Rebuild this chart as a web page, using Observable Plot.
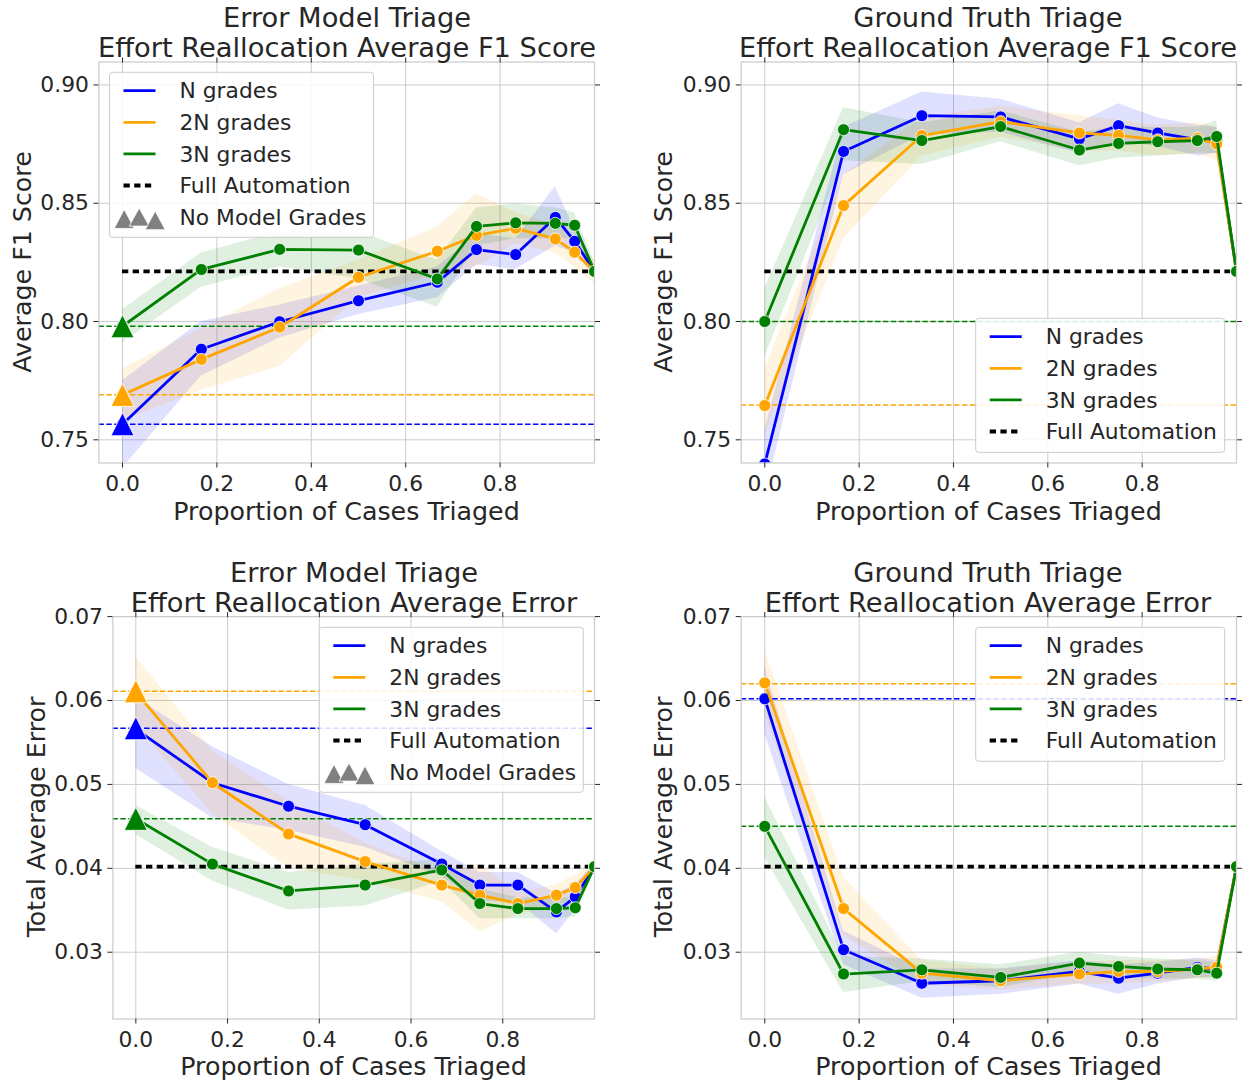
<!DOCTYPE html>
<html>
<head>
<meta charset="utf-8">
<script src="https://cdn.jsdelivr.net/npm/d3@7"></script>
<script src="https://cdn.jsdelivr.net/npm/@observablehq/plot@0.6"></script>
<style>
html,body{margin:0;padding:0;background:#ffffff;}
#root{position:relative;width:1252px;height:1082px;overflow:hidden;background:#fff;}
#root > svg{position:absolute;}
</style>
</head>
<body>
<div id="root"></div>
<script>
// ---------- shared categories / ticks ----------
const seriesNames = ["N grades", "2N grades", "3N grades"];
const seriesColors = ["blue", "orange", "green"];
const triageProp = [0, 0.167, 0.333, 0.5, 0.667, 0.75, 0.833, 0.917, 0.958, 1.0];
const xTickValues = [0, 0.2, 0.4, 0.6, 0.8];
const f1TickValues = [0.75, 0.80, 0.85, 0.90];
const errTickValues = [0.03, 0.04, 0.05, 0.06, 0.07];

// ---------- Error Model Triage : F1 ----------
const emF1_N     = [0.7566, 0.7883, 0.7999, 0.8088, 0.8166, 0.8304, 0.8283, 0.8440, 0.8339, 0.8212];
const emF1_N_lo  = [0.738, 0.777, 0.793, 0.803, 0.810, 0.824, 0.822, 0.832, 0.829, 0.819];
const emF1_N_hi  = [0.775, 0.800, 0.807, 0.815, 0.823, 0.837, 0.835, 0.857, 0.839, 0.823];
const emF1_2N    = [0.769, 0.784, 0.7976, 0.8187, 0.8297, 0.8364, 0.8394, 0.8349, 0.8293, 0.8212];
const emF1_2N_lo = [0.758, 0.771, 0.781, 0.810, 0.820, 0.823, 0.833, 0.829, 0.823, 0.816];
const emF1_2N_hi = [0.780, 0.797, 0.814, 0.826, 0.840, 0.854, 0.846, 0.841, 0.836, 0.826];
const emF1_3N    = [0.798, 0.822, 0.8305, 0.8302, 0.818, 0.8402, 0.8417, 0.8415, 0.8407, 0.8212];
const emF1_3N_lo = [0.791, 0.8145, 0.823, 0.818, 0.806, 0.832, 0.835, 0.835, 0.835, 0.818];
const emF1_3N_hi = [0.805, 0.829, 0.838, 0.838, 0.826, 0.848, 0.8497, 0.848, 0.846, 0.825];
const emF1_noModel = [0.7566, 0.769, 0.798];

// ---------- Ground Truth Triage : F1 ----------
const gtF1_N     = [0.7398, 0.8719, 0.887, 0.8865, 0.8772, 0.8828, 0.8797, 0.8769, 0.8766, 0.8212];
const gtF1_N_lo  = [0.726, 0.862, 0.879, 0.880, 0.871, 0.876, 0.874, 0.870, 0.871, 0.820];
const gtF1_N_hi  = [0.754, 0.882, 0.897, 0.894, 0.884, 0.892, 0.886, 0.883, 0.882, 0.823];
const gtF1_2N    = [0.7645, 0.849, 0.8786, 0.8845, 0.8797, 0.8787, 0.8768, 0.8775, 0.8751, 0.8212];
const gtF1_2N_lo = [0.752, 0.835, 0.870, 0.878, 0.872, 0.872, 0.870, 0.871, 0.868, 0.819];
const gtF1_2N_hi = [0.780, 0.862, 0.886, 0.891, 0.887, 0.885, 0.883, 0.884, 0.882, 0.824];
const gtF1_3N    = [0.800, 0.8811, 0.8765, 0.8824, 0.8725, 0.8753, 0.8760, 0.8765, 0.8782, 0.8212];
const gtF1_3N_lo = [0.785, 0.868, 0.8664, 0.876, 0.8658, 0.869, 0.870, 0.871, 0.871, 0.819];
const gtF1_3N_hi = [0.814, 0.8904, 0.884, 0.889, 0.880, 0.882, 0.882, 0.882, 0.885, 0.824];
const gtF1_noModel = [0.7398, 0.7647, 0.800];

const f1FullAutomation = 0.8212;

// ---------- Error Model Triage : Error ----------
const emErr_N     = [0.0566, 0.0502, 0.0474, 0.0452, 0.0405, 0.0380, 0.0380, 0.0348, 0.0366, 0.0402];
const emErr_N_lo  = [0.0519, 0.0460, 0.0445, 0.0425, 0.0390, 0.0360, 0.0360, 0.0322, 0.0350, 0.0398];
const emErr_N_hi  = [0.0604, 0.0545, 0.0500, 0.0475, 0.0420, 0.0395, 0.0395, 0.0370, 0.0380, 0.0406];
const emErr_2N    = [0.0610, 0.0502, 0.0441, 0.0408, 0.0380, 0.0368, 0.0358, 0.0368, 0.0377, 0.0402];
const emErr_2N_lo = [0.0570, 0.0465, 0.0400, 0.0385, 0.0360, 0.0324, 0.0345, 0.0355, 0.0365, 0.0398];
const emErr_2N_hi = [0.0652, 0.0540, 0.0480, 0.0430, 0.0395, 0.0405, 0.0370, 0.0380, 0.0392, 0.0406];
const emErr_3N    = [0.0459, 0.0405, 0.0373, 0.0380, 0.0398, 0.0358, 0.0352, 0.0352, 0.0353, 0.0402];
const emErr_3N_lo = [0.0440, 0.0385, 0.0350, 0.0355, 0.0385, 0.0340, 0.0340, 0.0340, 0.0342, 0.0398];
const emErr_3N_hi = [0.0475, 0.0425, 0.0395, 0.0405, 0.0410, 0.0375, 0.0365, 0.0365, 0.0365, 0.0406];
const emErr_noModel = [0.0567, 0.0611, 0.0459];

// ---------- Ground Truth Triage : Error ----------
const gtErr_N     = [0.0602, 0.0303, 0.0263, 0.0266, 0.0277, 0.0269, 0.0275, 0.0282, 0.0280, 0.0402];
const gtErr_N_lo  = [0.0560, 0.0285, 0.0245, 0.0250, 0.0262, 0.0250, 0.0262, 0.0270, 0.0270, 0.0398];
const gtErr_N_hi  = [0.0640, 0.0325, 0.0280, 0.0280, 0.0290, 0.0285, 0.0288, 0.0293, 0.0290, 0.0406];
const gtErr_2N    = [0.0621, 0.0352, 0.0275, 0.0266, 0.0274, 0.0277, 0.0277, 0.0280, 0.0282, 0.0402];
const gtErr_2N_lo = [0.0585, 0.0320, 0.0262, 0.0255, 0.0262, 0.0262, 0.0265, 0.0268, 0.0270, 0.0398];
const gtErr_2N_hi = [0.0660, 0.0389, 0.0290, 0.0280, 0.0288, 0.0290, 0.0290, 0.0292, 0.0295, 0.0406];
const gtErr_3N    = [0.0450, 0.0274, 0.0279, 0.0270, 0.0287, 0.0283, 0.0280, 0.0279, 0.0275, 0.0402];
const gtErr_3N_lo = [0.0413, 0.0252, 0.0265, 0.0258, 0.0275, 0.0270, 0.0268, 0.0268, 0.0265, 0.0398];
const gtErr_3N_hi = [0.0485, 0.0295, 0.0292, 0.0285, 0.0300, 0.0295, 0.0292, 0.0290, 0.0288, 0.0406];
const gtErr_noModel = [0.0602, 0.0620, 0.0450];

const errFullAutomation = 0.0402;

// ---------- drawing ----------
const FONT = "DejaVu Sans";
const TEXT = "#262626";
const GRID = "#cccccc";
const root = document.getElementById("root");

// matplotlib-like "^" marker: width == height, centred on its bounding box
const mplTriangle = {
  draw(context, size) {
    const r = Math.sqrt(size / Math.PI);
    context.moveTo(0, -r);
    context.lineTo(r, r);
    context.lineTo(-r, r);
    context.closePath();
  }
};

function pack(v, lo, hi, k) { return {v, lo, hi, color: seriesColors[k]}; }

function makePanel(cfg) {
  const rows = cfg.series.map(s => triageProp.map((x, i) => ({x, y: s.v[i], lo: s.lo[i], hi: s.hi[i]})));
  const marks = [
    Plot.gridX(xTickValues, {stroke: GRID, strokeOpacity: 1, strokeWidth: 1}),
    Plot.gridY(cfg.yTicks, {stroke: GRID, strokeOpacity: 1, strokeWidth: 1})
  ];
  cfg.series.forEach((s, k) => marks.push(Plot.areaY(rows[k], {x: "x", y1: "lo", y2: "hi", fill: s.color, fillOpacity: 0.12, clip: true})));
  cfg.series.forEach((s, k) => marks.push(Plot.ruleY([cfg.base[k]], {stroke: s.color, strokeWidth: 1.5, strokeDasharray: "5.5,2.4", clip: true})));
  marks.push(Plot.ruleY([cfg.auto], {x1: triageProp[0], x2: triageProp[triageProp.length - 1], stroke: "black", strokeWidth: 3.8, strokeDasharray: "6.3,4.4", clip: true}));
  cfg.series.forEach((s, k) => {
    marks.push(Plot.line(rows[k], {x: "x", y: "y", stroke: s.color, strokeWidth: 2.8, clip: true}));
    marks.push(Plot.dot(rows[k], {x: "x", y: "y", r: 6, fill: s.color, stroke: "white", strokeWidth: 0.8, clip: true}));
  });
  if (cfg.triangles) {
    cfg.series.forEach((s, k) => marks.push(Plot.dot([cfg.base[k]], {x: triageProp[0], y: d => d, symbol: mplTriangle, r: 11.5, fill: s.color, stroke: "white", strokeWidth: 0.8, clip: true})));
  }
  marks.push(Plot.frame({stroke: GRID, strokeWidth: 1.25}));
  marks.push(Plot.axisX(xTickValues, {anchor: "bottom", tickSize: 5, tickPadding: 8, tickFormat: d3.format(".1f"), fontSize: 21.8, label: null}));
  marks.push(Plot.axisX(xTickValues, {anchor: "top", tickSize: 5, tickFormat: () => "", label: null}));
  marks.push(Plot.axisY(cfg.yTicks, {anchor: "left", tickSize: 5, tickPadding: 5, tickFormat: d3.format(cfg.yFmt), fontSize: 21.8, label: null}));
  marks.push(Plot.axisY(cfg.yTicks, {anchor: "right", tickSize: 5, tickFormat: () => "", label: null}));

  const svg = Plot.plot({
    width: cfg.w, height: cfg.h,
    marginLeft: cfg.m[0], marginRight: cfg.m[1], marginTop: cfg.m[2], marginBottom: cfg.m[3],
    x: {domain: [-0.05, 1.0]},
    y: {domain: cfg.yDomain},
    style: {fontFamily: FONT, fontSize: "21.8px", color: TEXT, background: "transparent", overflow: "visible"},
    marks
  });
  svg.style.position = "absolute";
  svg.style.left = cfg.left + "px";
  svg.style.top = cfg.top + "px";
  root.appendChild(svg);
}

const topDomain = [0.7402, 0.9097];
const botDomain = [0.02204, 0.07];

makePanel({left: 0, top: 0, w: 626, h: 541, m: [98.4, 32, 61.5, 78.5], yDomain: topDomain, yTicks: f1TickValues, yFmt: ".2f",
  series: [pack(emF1_N, emF1_N_lo, emF1_N_hi, 0), pack(emF1_2N, emF1_2N_lo, emF1_2N_hi, 1), pack(emF1_3N, emF1_3N_lo, emF1_3N_hi, 2)],
  base: emF1_noModel, auto: f1FullAutomation, triangles: true});
makePanel({left: 626, top: 0, w: 626, h: 541, m: [114.7, 16, 61.5, 78.5], yDomain: topDomain, yTicks: f1TickValues, yFmt: ".2f",
  series: [pack(gtF1_N, gtF1_N_lo, gtF1_N_hi, 0), pack(gtF1_2N, gtF1_2N_lo, gtF1_2N_hi, 1), pack(gtF1_3N, gtF1_3N_lo, gtF1_3N_hi, 2)],
  base: gtF1_noModel, auto: f1FullAutomation, triangles: false});
makePanel({left: 0, top: 541, w: 626, h: 541, m: [112.4, 32, 75.1, 63.5], yDomain: botDomain, yTicks: errTickValues, yFmt: ".2f",
  series: [pack(emErr_N, emErr_N_lo, emErr_N_hi, 0), pack(emErr_2N, emErr_2N_lo, emErr_2N_hi, 1), pack(emErr_3N, emErr_3N_lo, emErr_3N_hi, 2)],
  base: emErr_noModel, auto: errFullAutomation, triangles: true});
makePanel({left: 626, top: 541, w: 626, h: 541, m: [114.7, 16, 75.1, 63.5], yDomain: botDomain, yTicks: errTickValues, yFmt: ".2f",
  series: [pack(gtErr_N, gtErr_N_lo, gtErr_N_hi, 0), pack(gtErr_2N, gtErr_2N_lo, gtErr_2N_hi, 1), pack(gtErr_3N, gtErr_3N_lo, gtErr_3N_hi, 2)],
  base: gtErr_noModel, auto: errFullAutomation, triangles: false});

// ---------- text overlay: titles, axis labels, legends ----------
const ov = d3.select(root).append("svg")
  .attr("width", 1252).attr("height", 1082)
  .style("position", "absolute").style("left", "0px").style("top", "0px")
  .attr("font-family", FONT).attr("fill", TEXT);

const titles = [
  {x: 347, y: 27, lines: ["Error Model Triage", "Effort Reallocation Average F1 Score"]},
  {x: 988, y: 27, lines: ["Ground Truth Triage", "Effort Reallocation Average F1 Score"]},
  {x: 354, y: 582, lines: ["Error Model Triage", "Effort Reallocation Average Error"]},
  {x: 988, y: 582, lines: ["Ground Truth Triage", "Effort Reallocation Average Error"]}
];
titles.forEach(t => t.lines.forEach((ln, i) => ov.append("text").attr("x", t.x).attr("y", t.y + i * 30)
  .attr("text-anchor", "middle").attr("font-size", 27.3).text(ln)));

const xLabel = "Proportion of Cases Triaged";
[[346.5, 520], [988.5, 520], [353.5, 1075], [988.5, 1075]].forEach(([x, y]) =>
  ov.append("text").attr("x", x).attr("y", y).attr("text-anchor", "middle").attr("font-size", 25.3).text(xLabel));

[[31, 262, "Average F1 Score"], [672, 262, "Average F1 Score"], [45, 817, "Total Average Error"], [672, 817, "Total Average Error"]]
  .forEach(([x, y, s]) => ov.append("text").attr("transform", `translate(${x},${y}) rotate(-90)`)
    .attr("text-anchor", "middle").attr("font-size", 25.3).text(s));

const legendEntries = [
  {label: seriesNames[0], kind: "line", color: seriesColors[0]},
  {label: seriesNames[1], kind: "line", color: seriesColors[1]},
  {label: seriesNames[2], kind: "line", color: seriesColors[2]},
  {label: "Full Automation", kind: "dash", color: "black"},
  {label: "No Model Grades", kind: "tri", color: "#808080"}
];

function legend(bx, by, bw, bh, withTri) {
  const g = ov.append("g").attr("transform", `translate(${bx},${by})`);
  g.append("rect").attr("width", bw).attr("height", bh).attr("rx", 3)
    .attr("fill", "white").attr("fill-opacity", 0.85).attr("stroke", GRID).attr("stroke-width", 1);
  const entries = withTri ? legendEntries : legendEntries.slice(0, 4);
  entries.forEach((e, i) => {
    const cy = 18.4 + i * 31.6;
    if (e.kind === "line") {
      g.append("line").attr("x1", 14).attr("x2", 46).attr("y1", cy).attr("y2", cy).attr("stroke", e.color).attr("stroke-width", 2.8);
    } else if (e.kind === "dash") {
      g.append("line").attr("x1", 14).attr("x2", 46).attr("y1", cy).attr("y2", cy).attr("stroke", e.color)
        .attr("stroke-width", 3.8).attr("stroke-dasharray", "6.3,4.4");
    } else {
      [[14.7, -7.7, 11.3], [29.7, -9, 9], [45.7, -6, 12.6]].forEach(([cx, a, b]) => {
        g.append("path").attr("d", `M${cx},${cy + a}L${cx - 10},${cy + b}L${cx + 10},${cy + b}Z`)
          .attr("fill", e.color).attr("stroke", "white").attr("stroke-width", 0.8);
      });
    }
    g.append("text").attr("x", 70).attr("y", cy).attr("dy", "0.35em").attr("font-size", 21.8).text(e.label);
  });
}
legend(109.5, 72.3, 264, 165, true);
legend(975.7, 318.3, 249, 134, false);
legend(319.3, 627.3, 264, 165, true);
legend(975.7, 627.3, 249, 134, false);
</script>
</body>
</html>
